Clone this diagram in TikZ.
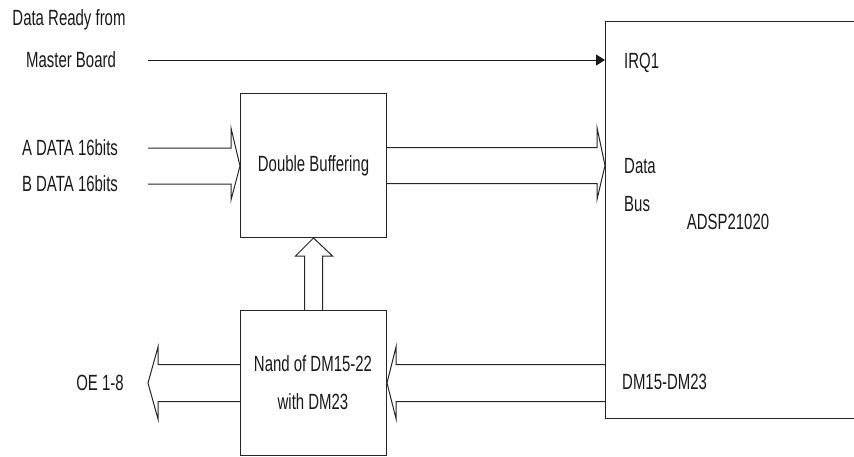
\documentclass[tikz,border=0pt]{standalone}
\usepackage{fontspec}
\setmainfont{Liberation Sans}[FakeStretch=0.68]
\usetikzlibrary{arrows.meta,calc}
\begin{document}
\begin{tikzpicture}[x=1pt,y=-1pt,
  lbl/.style={inner sep=0pt,font=\fontsize{22}{38}\selectfont,text=black!90},
  blk/.style={draw=black!85,line width=1pt,inner sep=0pt,anchor=north west},
  ln/.style={draw=black!90,line width=1pt},
  hollow/.style={draw=black!85,line width=1pt,line join=miter}]
\useasboundingbox (0,0) rectangle (854,456);
% boxes
\node[blk,minimum width=146pt,minimum height=144pt] (db) at (240,93) {};
\node[blk,minimum width=146pt,minimum height=145pt] (nand) at (240,310) {};
\node[blk,minimum width=270pt,minimum height=397pt] (dsp) at (605,21) {};
% box texts
\node[lbl] (dbt) at (db.center) {Double Buffering};
\node[lbl,align=center] (nandt) at (313,383) {Nand of DM15-22\\with DM23};
\node[lbl,anchor=west] (irq) at (624,63) {IRQ1};
\node[lbl,anchor=west,align=left] (bus) at (624,185.5) {Data\\Bus};
\node[lbl] (adsp) at (728,222) {ADSP21020};
\node[lbl,anchor=west] (dm) at (622,382) {DM15-DM23};
% outside labels
\node[lbl] (rdy1) at (69,20) {Data Ready from};
\node[lbl] (rdy2) at (71,60) {Master Board};
\node[lbl] (adata) at (70,148) {A DATA 16bits};
\node[lbl] (bdata) at (70,184) {B DATA 16bits};
\node[lbl] (oe) at (100,383) {OE 1-8};
% free ends
\coordinate (irqs) at (148,60);
\coordinate (abs) at (148,166);
\coordinate (oee) at (148,383);
% IRQ line
\draw[ln,-{Triangle[length=9pt,width=11pt]}] (irqs) -- (irqs -| dsp.west);
% A/B data into double buffer
\path (abs -| db.west) coordinate (t1);
\draw[hollow] ($(abs)+(0,-18)$) -- ($(t1)+(-9,-18)$) -- ($(t1)+(-9,-38)$) -- (t1)
  -- ($(t1)+(-9,34)$) -- ($(t1)+(-9,18)$) -- ($(abs)+(0,18)$);
% data bus from double buffer to dsp
\path (db.east) coordinate (s2);
\path (s2 -| dsp.west) coordinate (t2);
\draw[hollow] ($(s2)+(0,-18)$) -- ($(t2)+(-8,-18)$) -- ($(t2)+(-8,-38)$) -- (t2)
  -- ($(t2)+(-8,34)$) -- ($(t2)+(-8,18)$) -- ($(s2)+(0,18)$);
% up arrow from nand to double buffer
\path (nand.north) coordinate (s3);
\path (db.south) coordinate (t3);
\draw[hollow] ($(s3)+(-9,0)$) -- ($(t3)+(-9,18)$) -- ($(t3)+(-18,18)$) -- (t3)
  -- ($(t3)+(19,18)$) -- ($(t3)+(9,18)$) -- ($(s3)+(9,0)$);
% DM15-DM23 from dsp into nand
\path (nand.east) coordinate (t4);
\path (t4 -| dsp.west) coordinate (s4);
\draw[hollow] ($(s4)+(0,-18.5)$) -- ($(t4)+(9,-18.5)$) -- ($(t4)+(9,-36)$) -- (t4)
  -- ($(t4)+(9,35.5)$) -- ($(t4)+(9,18.5)$) -- ($(s4)+(0,18.5)$);
% OE output
\path (nand.west) coordinate (s5);
\draw[hollow] ($(s5)+(0,-18.5)$) -- ($(oee)+(10,-18.5)$) -- ($(oee)+(10,-36)$) -- (oee)
  -- ($(oee)+(10,36)$) -- ($(oee)+(10,18.5)$) -- ($(s5)+(0,18.5)$);
\end{tikzpicture}
\end{document}
